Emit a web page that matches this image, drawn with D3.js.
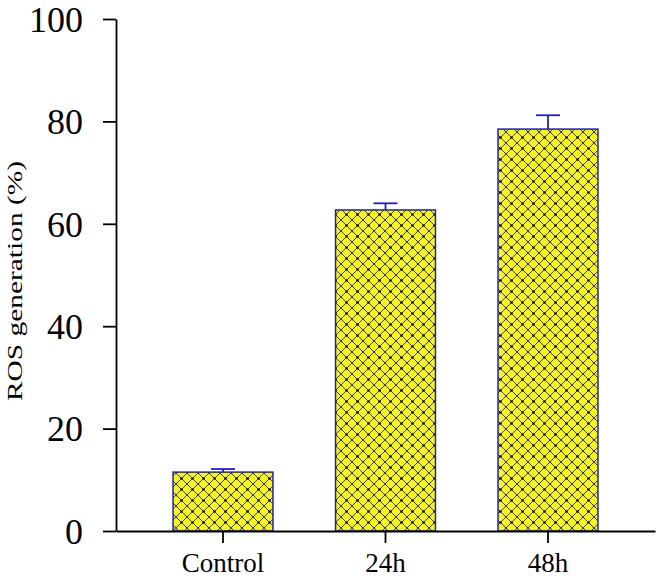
<!DOCTYPE html>
<html lang="en">
<head>
<meta charset="UTF-8">
<title>ROS generation</title>
<style>
  body { margin: 0; background: #fff; }
  svg text { font-family: "Liberation Serif", "Times New Roman", serif; fill: #000; }
</style>
</head>
<body>
<div id="chart"></div>
<script src="https://d3js.org/d3.v7.min.js"></script>
<script>
const categories = ["Control", "24h", "48h"];
const values = [11.5, 62.7, 78.5];
const errors = [0.6, 1.3, 2.7];
const yTicks = [0, 20, 40, 60, 80, 100];

const W = 661, H = 582;
const svg = d3.select("#chart").append("svg")
    .attr("width", W).attr("height", H);

// crosshatch fill
const defs = svg.append("defs");
const pat = defs.append("pattern")
    .attr("id", "hatch")
    .attr("patternUnits", "userSpaceOnUse")
    .attr("width", 11).attr("height", 11);
pat.append("rect").attr("width", 11).attr("height", 11).attr("fill", "#f6f420");
pat.append("path").attr("d", "M0,0L11,11M11,0L0,11M-1,10L1,12M10,-1L12,1")
    .attr("stroke", "#404040").attr("stroke-width", 1);
pat.append("circle").attr("cx", 5.5).attr("cy", 5.5).attr("r", 1.3).attr("fill", "#111");
pat.append("circle").attr("cx", 0).attr("cy", 0).attr("r", 1.3).attr("fill", "#2a2acc");
pat.append("circle").attr("cx", 11).attr("cy", 11).attr("r", 1.3).attr("fill", "#2a2acc");

const x = d3.scaleBand().domain(categories).range([116, 655])
    .paddingInner(0.385).paddingOuter(0.351);
const y = d3.scaleLinear().domain([0, 100]).range([531, 19]);

const data = categories.map((c, i) => ({ cat: c, v: values[i], e: errors[i] }));

// bars
svg.selectAll(".bar").data(data).enter().append("rect")
    .attr("class", "bar")
    .attr("x", d => x(d.cat))
    .attr("y", d => y(d.v))
    .attr("width", x.bandwidth())
    .attr("height", d => y(0) - y(d.v))
    .attr("fill", "url(#hatch)")
    .attr("stroke", "#2020b8")
    .attr("stroke-width", 1.5);

// error bars
const eb = svg.selectAll(".err").data(data).enter().append("g")
    .attr("stroke", "#2020b8").attr("stroke-width", 1.8);
eb.append("line")
    .attr("x1", d => x(d.cat) + x.bandwidth() / 2)
    .attr("x2", d => x(d.cat) + x.bandwidth() / 2)
    .attr("y1", d => y(d.v))
    .attr("y2", d => y(d.v + d.e));
eb.append("line")
    .attr("x1", d => x(d.cat) + x.bandwidth() / 2 - 12)
    .attr("x2", d => x(d.cat) + x.bandwidth() / 2 + 12)
    .attr("y1", d => y(d.v + d.e))
    .attr("y2", d => y(d.v + d.e));

// y axis
const yAxis = svg.append("g")
    .attr("transform", "translate(116,0)")
    .call(d3.axisLeft(y).tickValues(yTicks).tickSize(13).tickPadding(20).tickSizeOuter(0));
yAxis.selectAll("path, line").attr("stroke", "#000").attr("stroke-width", 1.8);
yAxis.selectAll("text").attr("font-size", 36).attr("dy", "0.34em")
    .style("font-family", "'Liberation Serif', serif");

// x axis
const xAxis = svg.append("g")
    .attr("transform", "translate(0,531)")
    .call(d3.axisBottom(x).tickSize(12).tickPadding(10).tickSizeOuter(0));
xAxis.selectAll("path, line").attr("stroke", "#000").attr("stroke-width", 1.8);
xAxis.selectAll("text").attr("font-size", 27).attr("dy", "0.72em")
    .style("font-family", "'Liberation Serif', serif");

// y label
svg.append("text")
    .attr("transform", "translate(22,281) rotate(-90)")
    .attr("text-anchor", "middle")
    .attr("font-size", 22)
    .attr("textLength", 240)
    .attr("lengthAdjust", "spacingAndGlyphs")
    .text("ROS generation (%)");
</script>
</body>
</html>
